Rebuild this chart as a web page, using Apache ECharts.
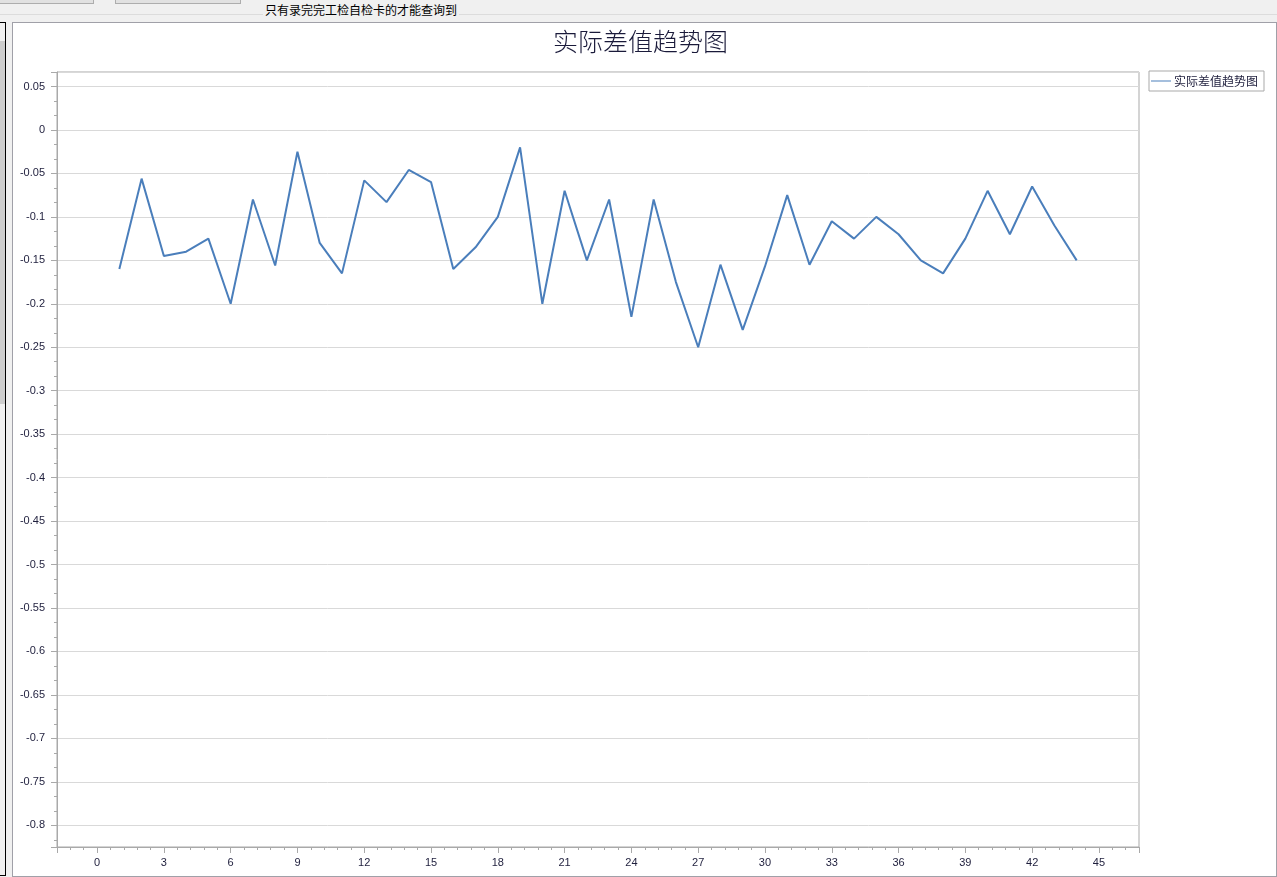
<!DOCTYPE html>
<html lang="zh">
<head>
    <meta charset="UTF-8">
    <title>实际差值趋势图</title>
    <style>
        body { margin: 0; background: #f0f0f0; width: 1277px; height: 877px; overflow: hidden; position: relative; font-family: "Noto Sans CJK SC", sans-serif; }
        .btn { position: absolute; top: -20px; height: 22px; border: 1px solid #adadad; background: #e1e1e1; }
        #group_line { position: absolute; left: 0; top: 14px; width: 1277px; height: 1px; background: #dcdcdc; }
        #tip { position: absolute; left: 263px; top: 3px; font-size: 12px; line-height: 14px; color: #000; background: #f0f0f0; padding: 0 2px; }
        #side { position: absolute; left: -2px; top: 22px; width: 6px; height: 852px; border: 1px solid #000; background: #f0f0f0; }
        #side_bar { position: absolute; left: 0; top: 18px; width: 6px; height: 363px; background: #cdcdcd; }
        #frame { position: absolute; left: 12px; top: 22px; width: 1263px; height: 853px; border: 1px solid #a0a0a8; background: #fff; }
        #main { position: absolute; left: 0; top: 0; width: 1277px; height: 877px; }
    </style>
</head>
<body>
    <div class="btn" style="left: -2px; width: 94px;"></div>
    <div class="btn" style="left: 115px; width: 124px;"></div>
    <div id="group_line"></div>
    <div id="tip">只有录完完工检自检卡的才能查询到</div>
    <div id="side"><div id="side_bar"></div></div>
    <div id="frame"></div>
    <div id="main"></div>

<script src="https://cdn.jsdelivr.net/npm/echarts@6/dist/echarts.min.js"></script>
<script type="text/javascript">
    // 图表数据
    var chart_title = '实际差值趋势图';
    var series_name = '实际差值趋势图';
    var diff_values = [
        -0.16, -0.056, -0.145, -0.14, -0.125, -0.2, -0.08, -0.156, -0.025, -0.13,
        -0.165, -0.058, -0.083, -0.046, -0.06, -0.16, -0.135, -0.1, -0.02, -0.2,
        -0.07, -0.15, -0.08, -0.215, -0.08, -0.175, -0.25, -0.155, -0.23, -0.157,
        -0.075, -0.155, -0.105, -0.125, -0.1, -0.12, -0.15, -0.165, -0.125, -0.07,
        -0.12, -0.065, -0.11, -0.15
    ];
    var x_range = [-1.8, 46.8];
    var y_range = [-0.825, 0.0667];

    var label_color = '#1e1e3c';
    var axis_color = '#a9a9a9';
    var line_color = '#4a7ebb';

    // 序号从1开始
    var line_data = [];
    for (var i = 0; i < diff_values.length; i++) {
        line_data.push([i + 1, diff_values[i]]);
    }

    var myChart = echarts.init(document.getElementById('main'), null, {renderer: 'canvas'});

    var option = {
        animation: false,
        backgroundColor: 'transparent',
        title: {
            text: chart_title,
            left: 553,
            top: 29,
            padding: 0,
            textStyle: {
                fontFamily: 'Noto Sans CJK SC',
                fontSize: 25,
                fontWeight: 300,
                color: '#1a1a3a'
            }
        },
        legend: {
            left: 1149,
            top: 71,
            padding: [3, 6, 3, 2],
            borderColor: axis_color,
            borderWidth: 1,
            itemWidth: 20,
            itemHeight: 1,
            icon: 'rect',
            textStyle: {
                fontFamily: 'Noto Sans CJK SC',
                fontSize: 12,
                color: label_color,
                lineHeight: 14,
                padding: [0, 0, 0, -2]
            },
            data: [series_name]
        },
        grid: {
            left: 57,
            top: 72,
            right: 138,
            bottom: 30,
            show: true,
            borderColor: axis_color,
            borderWidth: 1,
            backgroundColor: '#fff'
        },
        xAxis: {
            type: 'value',
            min: x_range[0],
            max: x_range[1],
            splitNumber: 16,
            minInterval: 3,
            maxInterval: 3,
            axisLine: {show: true, onZero: false, lineStyle: {color: axis_color}},
            axisTick: {show: true, length: 6, lineStyle: {color: axis_color}},
            minorTick: {show: true, splitNumber: 5, length: 3, lineStyle: {color: axis_color}},
            splitLine: {show: false},
            axisLabel: {
                showMinLabel: false,
                showMaxLabel: false,
                margin: 10,
                fontFamily: 'Liberation Sans',
                fontSize: 11,
                color: label_color
            }
        },
        yAxis: {
            type: 'value',
            min: y_range[0],
            max: y_range[1],
            splitNumber: 18,
            minInterval: 0.05,
            maxInterval: 0.05,
            axisLine: {show: true, onZero: false, lineStyle: {color: axis_color}},
            axisTick: {show: true, length: 6, lineStyle: {color: axis_color}},
            minorTick: {show: true, splitNumber: 3, length: 3, lineStyle: {color: axis_color}},
            splitLine: {show: true, lineStyle: {color: '#d9d9d9'}},
            axisLabel: {
                showMinLabel: false,
                showMaxLabel: false,
                margin: 12,
                fontFamily: 'Liberation Sans',
                fontSize: 11,
                color: label_color
            }
        },
        series: [{
            name: series_name,
            type: 'line',
            symbol: 'none',
            data: line_data,
            lineStyle: {color: line_color, width: 2},
            itemStyle: {color: line_color}
        }]
    };

    myChart.setOption(option);
</script>
</body>
</html>
